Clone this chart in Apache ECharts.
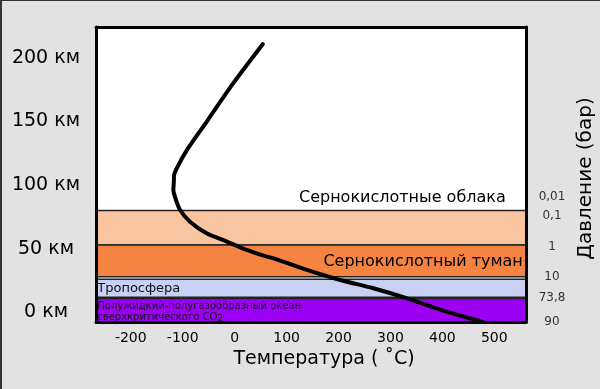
<!DOCTYPE html>
<html>
<head>
<meta charset="utf-8">
<script src="https://cdn.jsdelivr.net/npm/echarts@6/dist/echarts.min.js"></script>
<style>
  html, body { margin: 0; padding: 0; background: #e2e2e2; }
  #chart { width: 600px; height: 389px; }
</style>
</head>
<body>
<div id="chart"></div>
<script>
// temperature profile (°C vs km)
var temperature = [54, -3, -54, -92, -110, -117, -117, -118, -115, -105, -86, -54, -15, 23, 62, 74, 139, 203, 267, 331, 397, 478];
var altitude = [210.5, 179.7, 149.6, 127.4, 114.3, 106.5, 103.9, 96.1, 90.8, 80.4, 71.2, 62.1, 55.6, 49.1, 43.8, 42.6, 33.4, 25.5, 19.0, 11.2, 2.0, -7.5];

var tempTicks = [-200, -100, 0, 100, 200, 300, 400, 500];
var kmTicks = [0, 50, 100, 150, 200];

var pressureLabels = ["0,01", "0,1", "1", "10", "73,8", "90"];
var pressureHeights = [90.6, 75.7, 51.4, 27.9, 11.4, -7.5];

// layers: [bottom km, top km]
var layerNames = ["Сернокислотные облака", "Сернокислотный туман", "Тропосфера", "ocean"];
var layerBottom = [53, 28, 12, -7.5];
var layerTop = [80, 53, 26, 11];
var layerColors = ["#f9c5a1", "#f58442", "#c8d0f4", "#9b00f3"];

var font = "DejaVu Sans";
var chart = echarts.init(document.getElementById("chart"));

var layerLabels = [
  {
    show: true, position: "insideTopRight", offset: [-16, -25],
    formatter: layerNames[0], fontFamily: font, fontSize: 16, color: "#000"
  },
  {
    show: true, position: "insideRight", offset: [1, 1],
    formatter: layerNames[1], fontFamily: font, fontSize: 16, color: "#000"
  },
  {
    show: true, position: "insideLeft", offset: [-3, 0],
    formatter: layerNames[2], fontFamily: font, fontSize: 13, color: "#111"
  },
  {
    show: true, position: "insideTopLeft", offset: [-3, -2],
    formatter: "Полужидкий-полугазообразный океан\nсверхкритического CO{s|2}",
    fontFamily: font, fontSize: 10, lineHeight: 11, color: "#111",
    rich: { s: { fontFamily: font, fontSize: 9, verticalAlign: "bottom", padding: [6, 0, 0, 0], color: "#111" } }
  }
];

var areas = layerBottom.map(function (b, i) {
  return [
    {
      yAxis: layerTop[i],
      itemStyle: { color: layerColors[i], borderColor: "#222", borderWidth: 1.5 },
      label: layerLabels[i]
    },
    { yAxis: b }
  ];
});

var frameLine = { show: true, onZero: false, lineStyle: { color: "#000", width: 3 } };

chart.setOption({
  backgroundColor: "#e2e2e2",
  animation: false,
  textStyle: { fontFamily: font },
  graphic: [
    { type: "rect", left: 0, top: 0, shape: { width: 2, height: 389 }, style: { fill: "#333" } },
    { type: "rect", left: 0, top: 0, shape: { width: 600, height: 1 }, style: { fill: "#333" } }
  ],
  grid: {
    left: 96, right: 74, top: 27, bottom: 67,
    outerBoundsMode: "none",
    show: true, backgroundColor: "#fff", borderWidth: 0
  },
  xAxis: [
    {
      type: "value", min: -267, max: 561, z: 10,
      name: "Температура ( ˚C)", nameLocation: "middle", nameGap: 27,
      nameTextStyle: { fontFamily: font, fontSize: 19, color: "#000", padding: [0, 0, 0, 26] },
      axisLine: frameLine,
      axisTick: { show: false },
      splitLine: { show: false },
      axisLabel: { customValues: tempTicks, margin: 9, fontFamily: font, fontSize: 14, color: "#000" }
    },
    {
      type: "value", position: "top", min: -267, max: 561, z: 10,
      axisLine: frameLine,
      axisTick: { show: false },
      splitLine: { show: false },
      axisLabel: { show: false }
    }
  ],
  yAxis: [
    {
      type: "value", min: -7.5, max: 224, z: 10,
      axisLine: frameLine,
      axisTick: { show: false },
      splitLine: { show: false },
      axisLabel: {
        customValues: kmTicks, margin: 50, align: "center",
        fontFamily: font, fontSize: 19, color: "#000",
        formatter: function (v) { return v + " км"; }
      }
    },
    {
      type: "value", position: "right", min: -7.5, max: 224, z: 10,
      name: "Давление (бар)", nameLocation: "middle", nameRotate: 90, nameGap: 45,
      nameTextStyle: { fontFamily: font, fontSize: 20, color: "#000", padding: [0, 8, 0, 0] },
      axisLine: frameLine,
      axisTick: { show: false },
      splitLine: { show: false },
      axisLabel: {
        customValues: pressureHeights, showMinLabel: true, margin: 26, align: "center",
        fontFamily: font, fontSize: 12, color: "#333",
        formatter: function (v) { return pressureLabels[pressureHeights.indexOf(v)]; }
      }
    }
  ],
  series: [
    {
      type: "line",
      data: temperature.map(function (t, i) { return [t, altitude[i]]; }),
      smooth: 0.3,
      showSymbol: false,
      z: 5,
      lineStyle: { color: "#000", width: 4, cap: "round" },
      markArea: { silent: true, data: areas }
    }
  ]
});
</script>
</body>
</html>
